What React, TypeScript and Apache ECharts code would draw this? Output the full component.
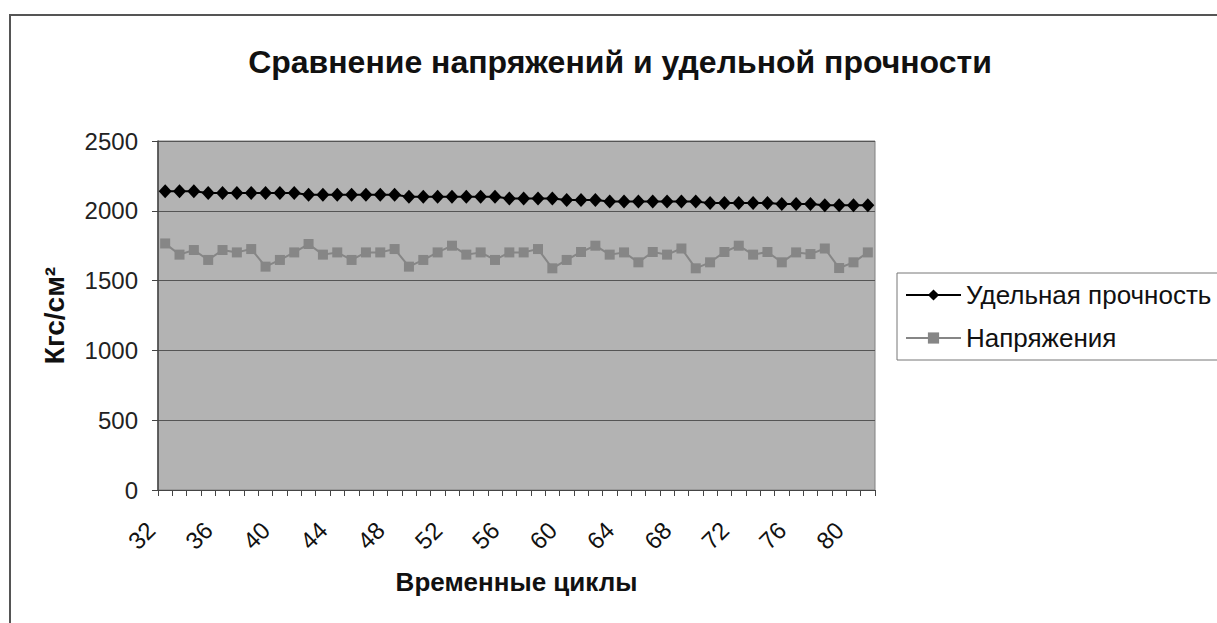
import React, { useEffect, useRef } from "react";
import * as echarts from "echarts";

const categories: string[] = [
  "32","33","34","35","36","37","38","39","40","41",
  "42","43","44","45","46","47","48","49","50","51",
  "52","53","54","55","56","57","58","59","60","61",
  "62","63","64","65","66","67","68","69","70","71",
  "72","73","74","75","76","77","78","79","80","81",
];

const strength: number[] = [
  2140, 2140, 2140, 2128, 2128, 2128, 2128, 2128, 2128, 2128,
  2115, 2115, 2115, 2115, 2115, 2115, 2115, 2100, 2100, 2100,
  2100, 2100, 2100, 2100, 2088, 2088, 2088, 2088, 2078, 2078,
  2078, 2066, 2066, 2066, 2066, 2066, 2066, 2066, 2055, 2055,
  2055, 2055, 2055, 2048, 2048, 2048, 2040, 2040, 2040, 2040,
];

const stress: number[] = [
  1766, 1686, 1719, 1648, 1719, 1702, 1726, 1600, 1648, 1702,
  1762, 1686, 1702, 1648, 1702, 1702, 1726, 1600, 1648, 1702,
  1750, 1686, 1702, 1648, 1702, 1702, 1726, 1588, 1648, 1705,
  1750, 1686, 1702, 1631, 1705, 1686, 1730, 1588, 1631, 1705,
  1750, 1686, 1705, 1631, 1702, 1690, 1730, 1590, 1631, 1702,
];

const yTicks = { min: 0, max: 2500, interval: 500 };

const titleText = "Сравнение напряжений и удельной прочности";
const seriesNames = ["Удельная прочность", "Напряжения"];
const xName = "Временные циклы";
const yName = "Кгс/см²";

const FONT = "'Liberation Sans', Arial, sans-serif";

export default function App() {
  const ref = useRef<HTMLDivElement>(null);
  useEffect(() => {
    if (!ref.current) return;
    const chart = echarts.init(ref.current, undefined, { renderer: "svg" });
    chart.setOption({
      animation: false,
      backgroundColor: "#ffffff",
      textStyle: { fontFamily: FONT },
      title: {
        text: titleText,
        left: 615,
        top: 41,
        textAlign: "center",
        textStyle: { fontFamily: FONT, fontSize: 32, fontWeight: "bold", color: "#111" },
      },
      graphic: [
        {
          type: "rect",
          shape: { x: 10, y: 15, width: 1260, height: 660 },
          style: { fill: "none", stroke: "#555", lineWidth: 2 },
          silent: true,
        },
      ],
      legend: {
        left: 897,
        top: 273,
        orient: "vertical",
        itemWidth: 55,
        itemHeight: 14,
        itemGap: 17,
        padding: [9, 60, 9, 8],
        borderColor: "#777",
        borderWidth: 1,
        backgroundColor: "#fff",
        textStyle: { fontFamily: FONT, fontSize: 26, color: "#111", lineHeight: 26 },
        data: seriesNames,
      },
      grid: {
        left: 158,
        top: 141,
        width: 717,
        height: 349,
        show: true,
        backgroundColor: "#b3b3b3",
        borderColor: "#808080",
        borderWidth: 1,
      },
      xAxis: {
        type: "category",
        data: categories,
        boundaryGap: true,
        name: xName,
        nameLocation: "middle",
        nameGap: 79,
        nameTextStyle: { fontFamily: FONT, fontSize: 26, fontWeight: "bold", color: "#111" },
        axisLine: { lineStyle: { color: "#444", width: 1 } },
        axisTick: { show: true, interval: 0, length: 6, lineStyle: { color: "#444" } },
        axisLabel: {
          interval: 3,
          rotate: 45,
          margin: 22,
          padding: [0, 20, 0, 0],
          fontFamily: FONT,
          fontSize: 24,
          color: "#111",
        },
        splitLine: { show: false },
      },
      yAxis: {
        type: "value",
        min: yTicks.min,
        max: yTicks.max,
        interval: yTicks.interval,
        name: yName,
        nameLocation: "middle",
        nameRotate: 90,
        nameGap: 90,
        nameTextStyle: { fontFamily: FONT, fontSize: 28, fontWeight: "bold", color: "#111" },
        axisLine: { show: true, lineStyle: { color: "#444", width: 1.5 } },
        axisTick: { show: true, length: 6, lineStyle: { color: "#444" } },
        axisLabel: {
          margin: 20,
          fontFamily: FONT,
          fontSize: 24,
          color: "#222",
          formatter: (v: number) => String(v),
        },
        splitLine: { show: true, lineStyle: { color: "#555", width: 1 } },
      },
      series: [
        {
          name: seriesNames[0],
          type: "line",
          data: strength,
          symbol: "diamond",
          symbolSize: [13, 14],
          showSymbol: true,
          showAllSymbol: true,
          itemStyle: { color: "#000" },
          lineStyle: { color: "#000", width: 2 },
        },
        {
          name: seriesNames[1],
          type: "line",
          data: stress,
          symbol: "rect",
          symbolSize: 10,
          showSymbol: true,
          showAllSymbol: true,
          itemStyle: { color: "#868686" },
          lineStyle: { color: "#868686", width: 2 },
        },
      ],
    });
    return () => chart.dispose();
  }, []);
  return (
    <div
      ref={ref}
      style={{ position: "fixed", left: 0, top: 0, width: 1217, height: 623 }}
    />
  );
}
